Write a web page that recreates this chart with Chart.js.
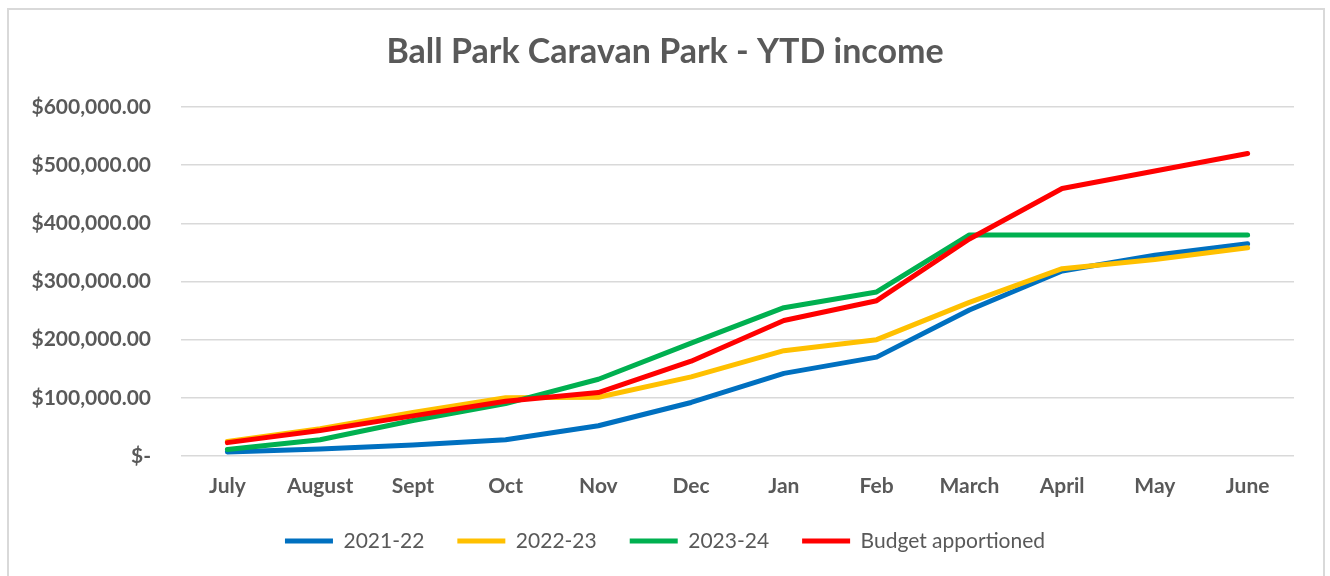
<!DOCTYPE html>
<html>
<head>
<meta charset="utf-8">
<script src="https://cdn.jsdelivr.net/npm/chart.js@4"></script>
<style>
    body { margin: 0; background: #fff; }
    #frame {
        position: absolute; left: 7px; top: 8px; width: 1314px; height: 600px;
        border: 2px solid #d9d9d9; border-bottom: none;
    }
    #wrap { position: absolute; left: 0; top: 0; width: 1330px; height: 576px; }
</style>
</head>
<body>
<div id="frame"></div>
<div id="wrap"><canvas id="myChart"></canvas></div>
<script>
// Data
const months = ["July", "August", "Sept", "Oct", "Nov", "Dec", "Jan", "Feb", "March", "April", "May", "June"];
const fy2122 = [7000, 12000, 19000, 28000, 52000, 92000, 142000, 170000, 251000, 318000, 345000, 365000];
const fy2223 = [25000, 47000, 75000, 100000, 101000, 136000, 181000, 200000, 264000, 322000, 338000, 358000];
const fy2324 = [11000, 28000, 61000, 90000, 132000, 194000, 255000, 282000, 380000, 380000, 380000, 380000];
const budget = [23000, 44000, 69000, 94000, 109000, 163000, 233000, 267000, 373000, 460000, 490000, 520000];
const yTicks = [0, 100000, 200000, 300000, 400000, 500000, 600000];

const textColor = "#595959";
const fontFamily = "Lato, 'Open Sans', sans-serif";

function line(label, data, color, order) {
    return {
        label: label,
        data: data,
        borderColor: color,
        backgroundColor: color,
        borderWidth: 5,
        borderCapStyle: "round",
        borderJoinStyle: "round",
        pointRadius: 0,
        tension: 0,
        order: order
    };
}

const myChart = new Chart(document.getElementById("myChart"), {
    type: "line",
    data: {
        labels: months,
        datasets: [
            line("2021-22", fy2122, "#0070C0", 4),
            line("2022-23", fy2223, "#FFC000", 3),
            line("2023-24", fy2324, "#00B050", 2),
            line("Budget apportioned", budget, "#FF0000", 1)
        ]
    },
    options: {
        responsive: true,
        maintainAspectRatio: false,
        animation: false,
        layout: { padding: { left: 20, right: 20, top: 0, bottom: 14.5 } },
        plugins: {
            title: {
                display: true,
                text: "Ball Park Caravan Park - YTD income",
                color: textColor,
                font: { family: fontFamily, size: 34, weight: "bold", lineHeight: 1.2 },
                padding: { top: 31.6, bottom: 34.6 }
            },
            legend: {
                position: "bottom",
                labels: {
                    usePointStyle: true,
                    pointStyle: "line",
                    pointStyleWidth: 48,
                    color: textColor,
                    font: { family: fontFamily, size: 21 },
                    padding: 33,
                    sort: (a, b) => a.datasetIndex - b.datasetIndex
                }
            },
            tooltip: { enabled: false }
        },
        scales: {
            x: {
                offset: true,
                grid: { display: false, drawTicks: false },
                border: { display: false },
                ticks: {
                    color: textColor,
                    font: { family: fontFamily, size: 21, weight: "bold" },
                    padding: 18,
                    maxRotation: 0
                },
                afterFit: (scale) => { scale.height = 41.5; }
            },
            y: {
                min: 0,
                max: 600000,
                afterBuildTicks: (scale) => { scale.ticks = yTicks.map(v => ({ value: v })); },
                grid: { color: "#d9d9d9", lineWidth: 1.5, drawTicks: false },
                border: { display: false },
                ticks: {
                    color: textColor,
                    font: { family: fontFamily, size: 21, weight: "bold" },
                    padding: 30,
                    callback: (v) => v === 0 ? "$-" :
                        "$" + v.toLocaleString("en-US", { minimumFractionDigits: 2, maximumFractionDigits: 2 })
                },
                afterFit: (scale) => { scale.width = 161; }
            },
            // empty right-hand strip so the plot ends where the reference does
            yRight: {
                position: "right",
                grid: { display: false },
                border: { display: false },
                ticks: { display: false },
                afterFit: (scale) => { scale.width = 16; }
            }
        }
    }
});
</script>
</body>
</html>
